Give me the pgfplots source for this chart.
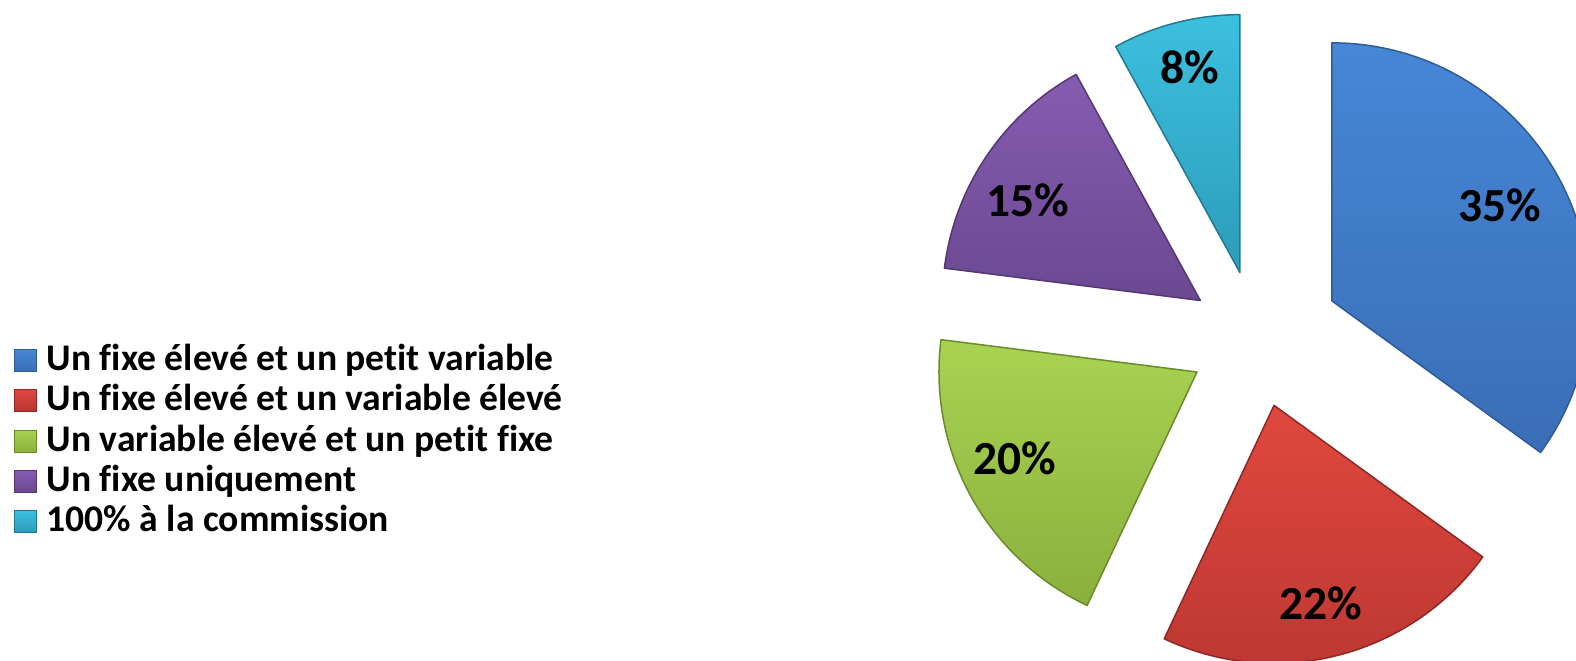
\documentclass[border=0pt]{standalone}
\usepackage{pgfplots}
\pgfplotsset{compat=1.18}
\usepackage{fontspec}
\setmainfont[Ligatures=CommonOff]{Carlito}
\definecolor{bluT}{HTML}{4687D6}\definecolor{bluB}{HTML}{3A6EB6}\definecolor{bluE}{HTML}{2F5A95}
\definecolor{redT}{HTML}{E0483F}\definecolor{redB}{HTML}{BA3631}\definecolor{redE}{HTML}{8E2825}
\definecolor{grnT}{HTML}{A8D352}\definecolor{grnB}{HTML}{8AB03C}\definecolor{grnE}{HTML}{6A8A2C}
\definecolor{purT}{HTML}{865BB1}\definecolor{purB}{HTML}{6B4991}\definecolor{purE}{HTML}{533872}
\definecolor{cyaT}{HTML}{3CC0DE}\definecolor{cyaB}{HTML}{2C9CBA}\definecolor{cyaE}{HTML}{22798F}
\begin{document}
\begin{tikzpicture}
\begin{axis}[scale only axis, width=157.6mm, height=66.1mm,
  xmin=0, xmax=1576, ymin=0, ymax=661, y dir=reverse, hide axis, clip=true]
\def\cx{1257}\def\cy{339}\def\R{25.8mm}
\gdef\cum{0}
% value / explosion distance / colour
\foreach \v/\d/\col in {35/84/blu,22/68.5/red,20/68.5/grn,15/68.5/pur,8/68.5/cya}{
  \pgfmathsetmacro{\sa}{90-3.6*\cum}
  \pgfmathsetmacro{\ea}{90-3.6*(\cum+\v)}
  \pgfmathsetmacro{\ma}{(\sa+\ea)/2}
  \pgfmathsetmacro{\vx}{\cx+\d*cos(\ma)}
  \pgfmathsetmacro{\vy}{\cy-\d*sin(\ma)}
  \edef\temp{\noexpand\shade[top color=\col T, bottom color=\col B, draw=\col E, line width=0.15mm, line join=round]
    (axis cs:\vx,\vy) -- ++(\sa:\R) arc[start angle=\sa, end angle=\ea, radius=\R] -- cycle;}
  \temp
  \pgfmathsetmacro{\nc}{\cum+\v}\xdef\cum{\nc}
}
\tikzset{lab/.style={font=\bfseries\fontsize{13.5}{16}\selectfont, text=black}}
\node[lab] at (axis cs:1500,205) {35\%};
\node[lab] at (axis cs:1321,603) {22\%};
\node[lab] at (axis cs:1015,458) {20\%};
\node[lab] at (axis cs:1028,200) {15\%};
\node[lab] at (axis cs:1190,67) {8\%};
% legend
\tikzset{leg/.style={anchor=base west, font=\bfseries\fontsize{10.7}{12}\selectfont, text=black, inner sep=0pt}}
\foreach \yy/\col in {360/blu,400/red,441/grn,481/pur,521/cya}{
  \edef\temp{\noexpand\shade[top color=\col T, bottom color=\col B, draw=\col E, line width=0.1mm]
    (axis cs:14,\yy-11) rectangle (axis cs:36,\yy+11);}
  \temp
}
\node[leg] at (axis cs:46,370) {Un fixe élevé et un petit variable};
\node[leg] at (axis cs:46,410) {Un fixe élevé et un variable élevé};
\node[leg] at (axis cs:46,451) {Un variable élevé et un petit fixe};
\node[leg] at (axis cs:46,491) {Un fixe uniquement};
\node[leg] at (axis cs:46,531) {100\% à la commission};
\end{axis}
\pgfresetboundingbox
\path (current axis.south west) rectangle (current axis.north east);
\end{tikzpicture}
\end{document}
